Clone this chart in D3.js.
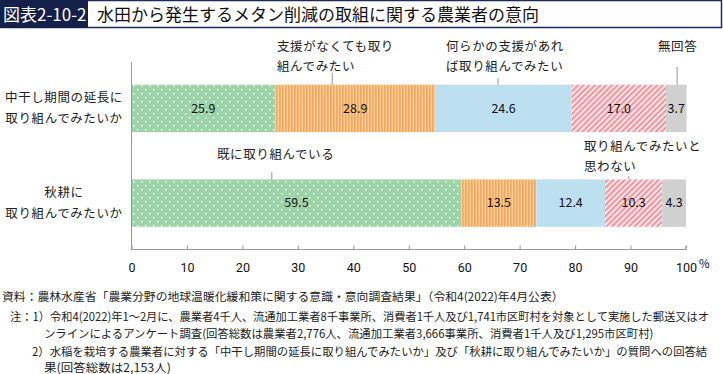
<!DOCTYPE html>
<html>
<head>
<meta charset="utf-8">
<script src="https://cdn.jsdelivr.net/npm/d3@7"></script>
<style>
  body { margin: 0; background: #fff; }
  svg { display: block; font-family: "Noto Sans CJK JP", "Noto Sans", sans-serif; }
</style>
</head>
<body>
<svg width="723" height="374"></svg>
<script>
// Data
let categories = ["中干し期間の延長に|取り組んでみたいか", "秋耕に|取り組んでみたいか"];
let series = ["既に取り組んでいる", "支援がなくても取り組んでみたい", "何らかの支援があれば取り組んでみたい", "取り組んでみたいと思わない", "無回答"];
let values1 = [25.9, 28.9, 24.6, 17.0, 3.7];
let values2 = [59.5, 13.5, 12.4, 10.3, 4.3];
let ticks = [0, 10, 20, 30, 40, 50, 60, 70, 80, 90, 100];

let svg = d3.select("svg");
let defs = svg.append("defs");

// Title bar
svg.append("rect").attr("x", 0.5).attr("y", 0.5).attr("width", 721).attr("height", 27)
    .attr("fill", "#fff").attr("stroke", "#1d2b5c").attr("stroke-width", 1.5);
svg.append("rect").attr("x", 0).attr("y", 0).attr("width", 88).attr("height", 28).attr("fill", "#14204a");
svg.append("text").attr("x", 3).attr("y", 21).attr("fill", "#fff").attr("font-size", 17).text("図表2-10-2");
svg.append("text").attr("x", 97).attr("y", 21).attr("fill", "#111").attr("font-size", 17)
    .text("水田から発生するメタン削減の取組に関する農業者の意向");

// Patterns
let pDot = defs.append("pattern").attr("id", "pDot").attr("patternUnits", "userSpaceOnUse")
    .attr("width", 8).attr("height", 8);
pDot.append("rect").attr("width", 8).attr("height", 8).attr("fill", "#9ed3a9");
pDot.append("rect").attr("x", 1).attr("y", 1).attr("width", 1.5).attr("height", 1.5).attr("fill", "#f2faf3");
pDot.append("rect").attr("x", 5).attr("y", 5).attr("width", 1.5).attr("height", 1.5).attr("fill", "#f2faf3");

let pVert = defs.append("pattern").attr("id", "pVert").attr("patternUnits", "userSpaceOnUse")
    .attr("width", 3).attr("height", 3);
pVert.append("rect").attr("width", 3).attr("height", 3).attr("fill", "#fbcd98");
pVert.append("rect").attr("width", 1.6).attr("height", 3).attr("fill", "#f6a75e");

let pDiag = defs.append("pattern").attr("id", "pDiag").attr("patternUnits", "userSpaceOnUse")
    .attr("width", 4).attr("height", 4).attr("patternTransform", "rotate(45)");
pDiag.append("rect").attr("width", 4).attr("height", 4).attr("fill", "#fde6e8");
pDiag.append("rect").attr("width", 1.8).attr("height", 4).attr("fill", "#f28d98");

let fills = ["url(#pDot)", "url(#pVert)", "#bde0f1", "url(#pDiag)", "#d0d0d0"];

let axisY = 249.5;

let x = d3.scaleLinear().domain([0, 100]).range([131.5, 686]);
let y = d3.scaleBand().domain(categories).range([62, axisY]).paddingInner(0.5).paddingOuter(0.24);

let rows = [values1, values2].map(function (vals, i) {
    let acc = 0;
    return vals.map(function (v, j) {
        let d = { cat: categories[i], key: series[j], i: j, x0: acc, x1: acc + v, value: v };
        acc += v;
        return d;
    });
});

let g = svg.append("g");
rows.forEach(function (row) {
    g.selectAll(null).data(row).enter().append("rect")
        .attr("x", d => x(d.x0))
        .attr("y", d => y(d.cat))
        .attr("width", d => x(d.x1) - x(d.x0))
        .attr("height", y.bandwidth())
        .attr("fill", d => fills[d.i]);
    g.selectAll(null).data(row).enter().append("text")
        .attr("x", d => (x(d.x0) + x(d.x1)) / 2)
        .attr("y", d => y(d.cat) + y.bandwidth() / 2)
        .attr("dy", "0.35em")
        .attr("text-anchor", "middle")
        .attr("font-size", 12.5)
        .attr("fill", "#111")
        .text(d => d.value.toFixed(1));
});

// Axes
let axis = svg.append("g").attr("transform", "translate(0," + axisY + ")")
    .call(d3.axisBottom(x).tickValues(ticks).tickSize(-4).tickPadding(14));
axis.select(".domain").attr("stroke", "#999").attr("d", "M" + x(0) + ",-4V0H" + x(100) + "V-4");
axis.selectAll(".tick line").attr("stroke", "#999");
axis.selectAll(".tick text").attr("font-size", 12.5).attr("fill", "#111")
    .attr("font-family", "Roboto, 'Noto Sans', sans-serif");
svg.append("text").attr("x", 699).attr("y", 268).attr("font-size", 11.5).attr("fill", "#111").text("%");
svg.append("line").attr("x1", x(0)).attr("x2", x(0)).attr("y1", 62).attr("y2", axisY)
    .attr("stroke", "#999");

// Category labels
categories.forEach(function (c) {
    let lines = c.split("|");
    let cy = y(c) + y.bandwidth() / 2;
    lines.forEach(function (l, k) {
        svg.append("text").attr("x", 64).attr("y", cy + (k - (lines.length - 1) / 2) * 21)
            .attr("dy", "0.35em").attr("text-anchor", "middle").attr("font-size", 12.5)
            .attr("letter-spacing", 0.6).attr("fill", "#222").text(l);
    });
});

// Callouts: [row, series, leader x (data units), label lines, label left x, first line y, leader top]
let callouts = [
    [0, 1, 36.2, ["支援がなくても取り", "組んでみたい"], 277, 51, 73],
    [0, 2, 66.1, ["何らかの支援があれ", "ば取り組んでみたい"], 446, 51, 78],
    [0, 4, 98.4, ["無回答"], 658, 51, 67],
    [1, 0, 25.3, ["既に取り組んでいる"], 217, 159, 172],
    [1, 3, 89.7, ["取り組んでみたいと", "思わない"], 584, 151, 176]
];
callouts.forEach(function (c) {
    let cat = categories[c[0]];
    svg.append("line").attr("x1", x(c[2])).attr("x2", x(c[2]))
        .attr("y1", c[6]).attr("y2", y(cat)).attr("stroke", "#999");
    c[3].forEach(function (l, k) {
        svg.append("text").attr("x", c[4]).attr("y", c[5] + k * 20).attr("font-size", 12.5)
            .attr("letter-spacing", 0.6).attr("fill", "#222").text(l);
    });
});

// Notes: squeezed horizontally to the width they take in the original
let notes = [
    [2, 296.5, 562, "資料：農林水産省「農業分野の地球温暖化緩和策に関する意識・意向調査結果」（令和4(2022)年4月公表）"],
    [10, 316.5, 700, "注：1）令和4(2022)年1～2月に、農業者4千人、流通加工業者8千事業所、消費者1千人及び1,741市区町村を対象として実施した郵送又はオ"],
    [44, 334, 610, "ンラインによるアンケート調査(回答総数は農業者2,776人、流通加工業者3,666事業所、消費者1千人及び1,295市区町村)"],
    [32, 351.5, 676, "2）水稲を栽培する農業者に対する「中干し期間の延長に取り組んでみたいか」及び「秋耕に取り組んでみたいか」の質問への回答結"],
    [44, 367.5, 127, "果(回答総数は2,153人)"]
];
notes.forEach(function (n) {
    let t = svg.append("text").attr("x", 0).attr("y", 0).attr("dy", "0.36em")
        .attr("font-size", 11.5).attr("fill", "#222").text(n[3]);
    let w = t.node().getComputedTextLength();
    t.attr("transform", "translate(" + n[0] + "," + n[1] + ") scale(" + (n[2] / w) + ",1)");
});
</script>
</body>
</html>
